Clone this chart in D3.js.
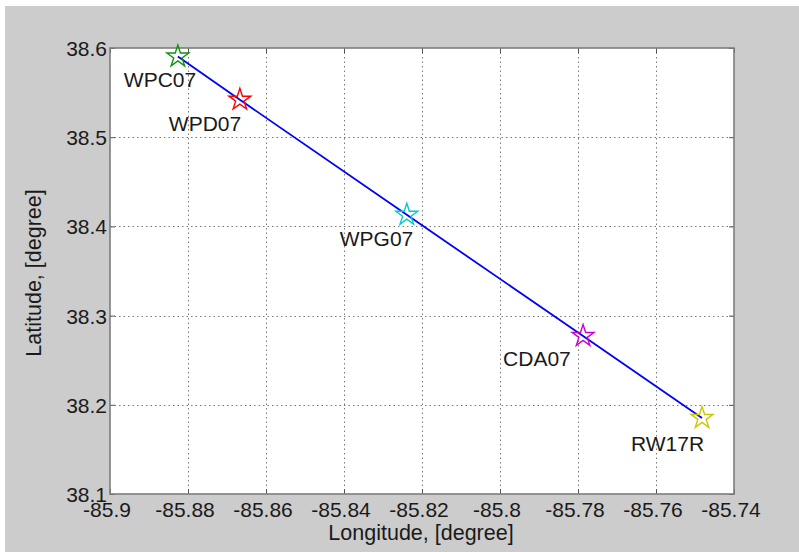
<!DOCTYPE html>
<html>
<head>
<meta charset="utf-8">
<script src="https://cdn.jsdelivr.net/npm/d3@7"></script>
<style>
  html, body { margin: 0; padding: 0; background: #ffffff; }
  svg { display: block; font-family: "Liberation Sans", Arial, Helvetica, sans-serif; }
</style>
</head>
<body>
<svg id="chart" width="799" height="552"></svg>
<script>
// Waypoints along the approach path
const stations   = ["WPC07", "WPD07", "WPG07", "CDA07", "RW17R"];
const longitudes = [-85.8826, -85.8667, -85.8239, -85.7787, -85.7482];
const latitudes  = [38.5904, 38.5420, 38.4130, 38.2771, 38.1852];
const markerColors = ["#129212", "#ff0000", "#00cccc", "#cc00cc", "#c8c800"];

// Tick values on each axis
const xTicks = [-85.9, -85.88, -85.86, -85.84, -85.82, -85.8, -85.78, -85.76, -85.74];
const yTicks = [38.1, 38.2, 38.3, 38.4, 38.5, 38.6];

// Label placement relative to each marker (pixels)
const labelDx = [-54, -71, -67, -80, -71];
const labelDy = [30, 31, 31, 30, 33];

const svg = d3.select("#chart");
const W = 799, H = 552;
const plot = { left: 110, top: 48, right: 734, bottom: 494 };

// Figure background
svg.append("rect").attr("x", 5).attr("y", 6).attr("width", W - 5).attr("height", H - 6)
  .attr("fill", "#cccccc");

const x = d3.scaleLinear().domain([-85.9, -85.74]).range([plot.left, plot.right]);
const y = d3.scaleLinear().domain([38.1, 38.6]).range([plot.bottom, plot.top]);

// Axes area
svg.append("rect")
  .attr("x", plot.left).attr("y", plot.top)
  .attr("width", plot.right - plot.left).attr("height", plot.bottom - plot.top)
  .attr("fill", "#ffffff");

// Dotted grid
const grid = svg.append("g").attr("stroke", "#7a7a7a").attr("stroke-width", 1)
  .attr("stroke-dasharray", "1.5,3");
grid.selectAll("line.gx").data(xTicks.slice(1, -1)).join("line")
  .attr("x1", d => Math.round(x(d)) + 0.5).attr("x2", d => Math.round(x(d)) + 0.5)
  .attr("y1", plot.top).attr("y2", plot.bottom);
grid.selectAll("line.gy").data(yTicks.slice(1, -1)).join("line")
  .attr("y1", d => Math.round(y(d)) + 0.5).attr("y2", d => Math.round(y(d)) + 0.5)
  .attr("x1", plot.left).attr("x2", plot.right);

// Inward tick marks via d3 axes
const tickLen = 5;
const fmtX = d => String(+d.toFixed(2));
const fmtY = d => String(+d.toFixed(1));

const xAxisB = svg.append("g").attr("transform", `translate(0,${plot.bottom})`)
  .call(d3.axisBottom(x).tickValues(xTicks).tickSize(-tickLen).tickFormat(""));
const xAxisT = svg.append("g").attr("transform", `translate(0,${plot.top})`)
  .call(d3.axisTop(x).tickValues(xTicks).tickSize(-tickLen).tickFormat(""));
const yAxisL = svg.append("g").attr("transform", `translate(${plot.left},0)`)
  .call(d3.axisLeft(y).tickValues(yTicks).tickSize(-tickLen).tickFormat(""));
const yAxisR = svg.append("g").attr("transform", `translate(${plot.right},0)`)
  .call(d3.axisRight(y).tickValues(yTicks).tickSize(-tickLen).tickFormat(""));
[xAxisB, xAxisT, yAxisL, yAxisR].forEach(a => {
  a.select(".domain").remove();
  a.selectAll(".tick line").attr("stroke", "#555555").attr("stroke-width", 1);
});

// Tick labels
svg.append("g").selectAll("text").data(xTicks).join("text")
  .attr("x", d => x(d) - 3).attr("y", 517)
  .attr("text-anchor", "middle").attr("font-size", 21).attr("fill", "#1a1a1a")
  .text(fmtX);
svg.append("g").selectAll("text").data(yTicks).join("text")
  .attr("x", 107).attr("y", d => y(d) + 8)
  .attr("text-anchor", "end").attr("font-size", 21).attr("fill", "#1a1a1a")
  .text(fmtY);

// Axes box
svg.append("rect")
  .attr("x", plot.left).attr("y", plot.top)
  .attr("width", plot.right - plot.left).attr("height", plot.bottom - plot.top)
  .attr("fill", "none").attr("stroke", "#7d7d7d").attr("stroke-width", 1.6);

// Flight path
const pts = stations.map((s, i) => [x(longitudes[i]), y(latitudes[i])]);
svg.append("path")
  .attr("d", d3.line()(pts))
  .attr("fill", "none").attr("stroke", "#0000ff").attr("stroke-width", 1.8);

// Pentagram marker path
function pentagram(R) {
  const r = R * 0.382;
  const p = [];
  for (let k = 0; k < 10; k++) {
    const a = -Math.PI / 2 + k * Math.PI / 5;
    const rad = k % 2 === 0 ? R : r;
    p.push([rad * Math.cos(a), rad * Math.sin(a)]);
  }
  return d3.line()(p) + "Z";
}
const starPath = pentagram(11.5);

svg.append("g").selectAll("path").data(stations).join("path")
  .attr("transform", (d, i) => `translate(${pts[i][0]},${pts[i][1]})`)
  .attr("d", starPath)
  .attr("fill", "none")
  .attr("stroke", (d, i) => markerColors[i])
  .attr("stroke-width", 1.4)
  .attr("stroke-linejoin", "miter");

// Station labels
svg.append("g").selectAll("text").data(stations).join("text")
  .attr("x", (d, i) => pts[i][0] + labelDx[i])
  .attr("y", (d, i) => pts[i][1] + labelDy[i])
  .attr("font-size", 21).attr("fill", "#1a1a1a")
  .text(d => d);

// Axis titles
svg.append("text")
  .attr("x", (plot.left + plot.right) / 2 - 1).attr("y", 540)
  .attr("text-anchor", "middle").attr("font-size", 21.5).attr("fill", "#1a1a1a")
  .text("Longitude, [degree]");
svg.append("text")
  .attr("transform", `translate(41,${(plot.top + plot.bottom) / 2 + 2}) rotate(-90)`)
  .attr("text-anchor", "middle").attr("font-size", 21.5).attr("fill", "#1a1a1a")
  .text("Latitude, [degree]");
</script>
</body>
</html>
